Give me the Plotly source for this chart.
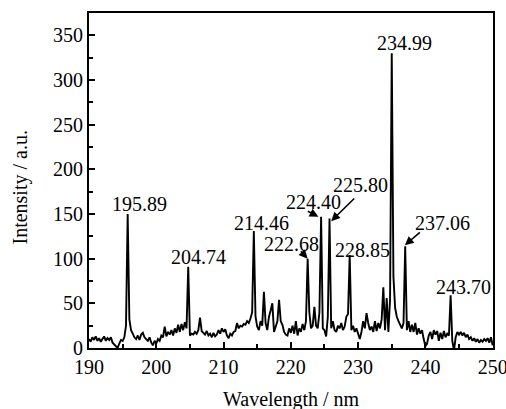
import numpy as np
import plotly.graph_objects as go

wl_start, wl_step = 190.0, 0.25
intensity = [
    10, 7, 12, 9,      # 190
    13, 8, 11, 7,      # 191
    10, 13, 8, 11,     # 192
    9, 12, 6, 4,       # 193
    2, 0, 5, 9,        # 194
    8, 12, 25, 150,    # 195
    32, 20, 16, 12,    # 196
    10, 14, 9, 15,     # 197
    17, 12, 10, 8,     # 198
    12, 6, 3, 8,       # 199
    5, 10, 8, 14,      # 200
    12, 24, 13, 18,    # 201
    15, 20, 14, 22,    # 202
    17, 26, 18, 27,    # 203
    20, 29, 22, 91,    # 204
    14, 16, 15, 18,    # 205
    16, 20, 34, 19,    # 206
    17, 15, 19, 14,    # 207
    16, 12, 17, 13,    # 208
    15, 20, 16, 22,    # 209
    18, 21, 14, 11,    # 210
    16, 14, 18, 19,    # 211
    28, 22, 25, 24,    # 212
    27, 26, 30, 28,    # 213
    33, 40, 131, 35,   # 214
    24, 20, 30, 25,    # 215
    63, 28, 20, 35,    # 216
    42, 50, 18, 25,    # 217
    30, 54, 30, 26,    # 218
    18, 15, 14, 22,    # 219
    17, 25, 16, 30,    # 220
    14, 22, 18, 27,    # 221
    20, 30, 100, 40,   # 222
    22, 25, 46, 25,    # 223
    22, 40, 147, 22,   # 224
    20, 13, 35, 145,   # 225
    22, 30, 20, 18,    # 226
    25, 22, 28, 20,    # 227
    24, 35, 38, 104,   # 228
    20, 25, 18, 22,    # 229
    16, 10, 18, 30,    # 230
    22, 39, 28, 20,    # 231
    24, 18, 30, 19,    # 232
    28, 22, 32, 68,    # 233
    20, 56, 18, 55,    # 234
    330, 80, 45, 35,   # 235
    30, 25, 22, 28,    # 236
    114, 20, 30, 18,   # 237
    26, 18, 28, 15,    # 238
    22, 16, 20, 10,    # 239
    2, 5, 14, 18,      # 240
    10, 20, 15, 19,    # 241
    8, 17, 10, 19,     # 242
    12, 16, 14, 59,    # 243
    8, -3, 12, 18,     # 244
    15, 18, 14, 17,    # 245
    12, 15, 10, 12,    # 246
    8, 11, 7, 10,      # 247
    6, 9, 7, 10,       # 248
    8, 11, 6, 12,      # 249
    3,                 # 250
]
wavelength = [wl_start + wl_step * i for i in range(len(intensity))]

# Tick labels
x_ticks = [190, 200, 210, 220, 230, 240, 250]
y_ticks = [0, 50, 100, 150, 200, 250, 300, 350]

# Peak labels: text, label position (x, y)
label_text = ["195.89", "204.74", "214.46", "222.68", "224.40", "225.80",
              "228.85", "234.99", "237.06", "243.70"]
label_x = [197.5, 206.3, 215.7, 220.1, 223.3, 230.35, 230.6, 236.9, 242.6, 245.7]
label_y = [161, 102, 140, 116, 163, 183, 110, 341, 140, 68]

# Arrows: tail (x, y) -> head (x, y)
arrow_tail_x = [221.3, 222.3, 229.65, 239.4]
arrow_tail_y = [110, 154, 169, 131]
arrow_head_x = [222.5, 224.1, 226.0, 236.95]
arrow_head_y = [100, 147, 142, 115]

FONT = "Liberation Serif, Times New Roman, Times, serif"

fig = go.Figure()
fig.add_trace(go.Scatter(x=wavelength, y=intensity, mode="lines",
                         line=dict(color="black", width=1.9), showlegend=False,
                         hoverinfo="skip"))

anns = []
for t, x, y in zip(label_text, label_x, label_y):
    anns.append(dict(x=x, y=y, xref="x", yref="y", text=t, showarrow=False,
                     xanchor="center", yanchor="middle",
                     font=dict(family=FONT, size=20, color="black")))
for tx, ty, hx, hy in zip(arrow_tail_x, arrow_tail_y, arrow_head_x, arrow_head_y):
    anns.append(dict(x=hx, y=hy, ax=tx, ay=ty, xref="x", yref="y",
                     axref="x", ayref="y", text="", showarrow=True,
                     arrowhead=2, arrowsize=1.1, arrowwidth=1.6,
                     arrowcolor="black", standoff=0, startstandoff=0))
anns.append(dict(x=0.5, y=-0.155, xref="paper", yref="paper",
                 text="Wavelength / nm", showarrow=False,
                 xanchor="center", yanchor="middle",
                 font=dict(family=FONT, size=20, color="black")))
anns.append(dict(x=-0.17, y=0.48, xref="paper", yref="paper",
                 text="Intensity / a.u.", showarrow=False, textangle=-90,
                 xanchor="center", yanchor="middle",
                 font=dict(family=FONT, size=20, color="black")))

axis_common = dict(showline=True, linecolor="black", linewidth=2, mirror=True,
                   ticks="inside", ticklen=6, tickwidth=1.5, tickcolor="black",
                   showgrid=False, zeroline=False, ticklabeloverflow="allow",
                   automargin=False,
                   tickfont=dict(family=FONT, size=20, color="black"))

fig.update_layout(
    width=506, height=409,
    margin=dict(l=89, r=13, t=13, b=61),
    paper_bgcolor="white", plot_bgcolor="white",
    font=dict(family=FONT, size=20, color="black"),
    annotations=anns,
    xaxis=dict(range=[190, 250.05], tickmode="array", tickvals=x_ticks,
               ticktext=[str(v) for v in x_ticks],
               minor=dict(dtick=5, tick0=190, ticks="inside", ticklen=4,
                          tickwidth=1.5, tickcolor="black"),
               **axis_common),
    yaxis=dict(range=[0, 375], tickmode="array", tickvals=y_ticks,
               ticktext=[str(v) for v in y_ticks],
               minor=dict(dtick=25, tick0=0, ticks="inside", ticklen=4,
                          tickwidth=1.5, tickcolor="black"),
               **axis_common),
)

# Remove the default page margin so the 506x409 figure fills the window exactly.
fig.write_html("out.html",
               config={"displayModeBar": False},
               post_script="document.body.style.margin='0';"
                           "document.body.style.overflow='hidden';")
